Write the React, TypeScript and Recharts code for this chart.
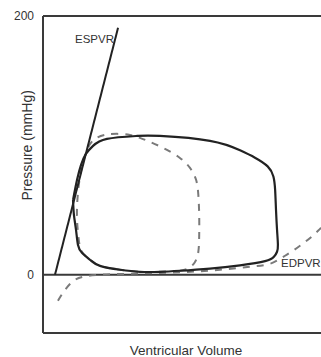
import React from 'react';
import { ComposedChart, Line, Scatter, XAxis, YAxis, ReferenceLine, Label } from 'recharts';

const volumeDomain: [number, number] = [0, 160];
const pressureDomain: [number, number] = [-45, 200];
const pressureTicks = [0, 200];

// [volume, pressure]
const controlLoop: [number, number][] = [
  [17.3, 57.9], [19.6, 73.4], [21.9, 84.9], [24.7, 93.4], [28.8, 99.6], [36.8, 105.0],
  [54.1, 107.3], [67.3, 107.3], [96.1, 103.5], [113.4, 96.2], [122.0, 90.5], [129.3, 83.8],
  [132.6, 76.0], [133.6, 65.6], [134.1, 50.2], [134.7, 34.7], [135.2, 23.2], [134.7, 17.8],
  [132.9, 13.9], [127.8, 10.5], [113.4, 7.3], [96.1, 4.8], [78.8, 3.1], [67.3, 2.3],
  [55.8, 2.3], [44.3, 3.9], [32.8, 6.9], [27.0, 11.6], [22.4, 17.0], [20.1, 23.2],
  [19.0, 34.7], [17.8, 46.3], [17.3, 57.9],
];

const alteredLoop: [number, number][] = [
  [78.8, 3.1], [67.3, 2.3], [55.8, 2.3], [44.3, 3.9], [32.8, 6.9], [27.0, 11.6],
  [22.4, 17.8], [20.6, 27.0], [19.6, 42.5], [19.8, 57.9], [21.0, 73.4], [23.0, 86.5],
  [25.9, 98.1], [29.9, 105.0], [35.7, 108.1], [42.6, 108.9], [50.1, 108.1], [55.8, 105.8],
  [61.6, 102.7], [70.2, 97.3], [78.8, 90.3], [84.6, 82.6], [88.1, 73.4], [89.4, 61.8],
  [89.9, 46.3], [89.9, 30.9], [89.4, 17.8], [87.2, 9.3], [83.2, 4.6], [78.8, 3.1],
];

const espvr: [number, number][] = [
  [6.9, 0], [43.2, 191],
];

const edpvr: [number, number][] = [
  [8.6, -20.1], [12.7, -11.6], [18.4, -3.9], [25.9, -0.8], [32.8, 0], [50.1, 0.8],
  [78.8, 1.9], [101.9, 3.9], [119.1, 6.2], [130.6, 8.5], [139.3, 14.7], [147.9, 22.4],
  [158.3, 34.0], [160, 36.3],
];

const curveLabels = [
  { name: 'ESPVR', v: 18.4, p: 182 },
  { name: 'EDPVR', v: 137.0, p: 9.0 },
];

const toPts = (arr: [number, number][]) => arr.map(([v, p]) => ({ v, p }));

const FONT = '"Liberation Sans", Arial, sans-serif';
const TEXT = '#333';
const AXIS = '#3a3a3a';

const XTitle = (props: any) => {
  const vb = props.viewBox || {};
  return (
    <text x={vb.x + vb.width / 2 + 4} y={vb.y + 22} textAnchor="middle" fontFamily={FONT} fontSize={13.5} fill={TEXT}>
      Ventricular Volume
    </text>
  );
};

const YTitle = (props: any) => {
  const vb = props.viewBox || {};
  const cx = 27;
  const cy = vb.y + vb.height * ((pressureDomain[1] - 100) / (pressureDomain[1] - pressureDomain[0]));
  return (
    <text x={cx} y={cy} transform={`rotate(-90, ${cx}, ${cy})`} textAnchor="middle" dominantBaseline="central" fontFamily={FONT} fontSize={14} fill={TEXT}>
      Pressure (mmHg)
    </text>
  );
};

const LabelShape = (props: any) => (
  <text x={props.cx} y={props.cy} textAnchor="start" dominantBaseline="central" fontFamily={FONT} fontSize={11.5} fill={TEXT}>
    {props.payload.name}
  </text>
);

export default function App() {
  return (
    <div style={{ position: 'absolute', left: 0, top: 0, width: 321, height: 357, overflow: 'hidden', background: '#fff' }}>
      <ComposedChart width={321} height={357} margin={{ top: 16, right: 0, bottom: 0, left: 0 }}>
        <XAxis
          type="number"
          dataKey="v"
          domain={volumeDomain}
          allowDataOverflow
          height={24}
          tick={false}
          tickLine={false}
          axisLine={{ stroke: AXIS, strokeWidth: 2 }}
        >
          <Label content={<XTitle />} />
        </XAxis>
        <YAxis
          type="number"
          dataKey="p"
          domain={pressureDomain}
          allowDataOverflow
          ticks={pressureTicks}
          width={43}
          tickLine={false}
          tickMargin={3}
          tick={{ fontFamily: FONT, fontSize: 12, fill: TEXT }}
          axisLine={{ stroke: AXIS, strokeWidth: 2 }}
        >
          <Label content={<YTitle />} />
        </YAxis>
        <ReferenceLine y={200} stroke={AXIS} strokeWidth={2} />
        <ReferenceLine y={0} stroke={AXIS} strokeWidth={2} />
        <Line data={toPts(edpvr)} dataKey="p" type="monotone" stroke="#7a7a7a" strokeWidth={2} strokeDasharray="7 7" dot={false} activeDot={false} isAnimationActive={false} />
        <Line data={toPts(alteredLoop)} dataKey="p" type="natural" stroke="#7a7a7a" strokeWidth={2} strokeDasharray="7 7" dot={false} activeDot={false} isAnimationActive={false} />
        <Line data={toPts(controlLoop)} dataKey="p" type="natural" stroke="#222" strokeWidth={2.2} dot={false} activeDot={false} isAnimationActive={false} />
        <Line data={toPts(espvr)} dataKey="p" type="linear" stroke="#222" strokeWidth={2} dot={false} activeDot={false} isAnimationActive={false} />
        <Scatter data={curveLabels} dataKey="p" shape={<LabelShape />} isAnimationActive={false} />
      </ComposedChart>
    </div>
  );
}
